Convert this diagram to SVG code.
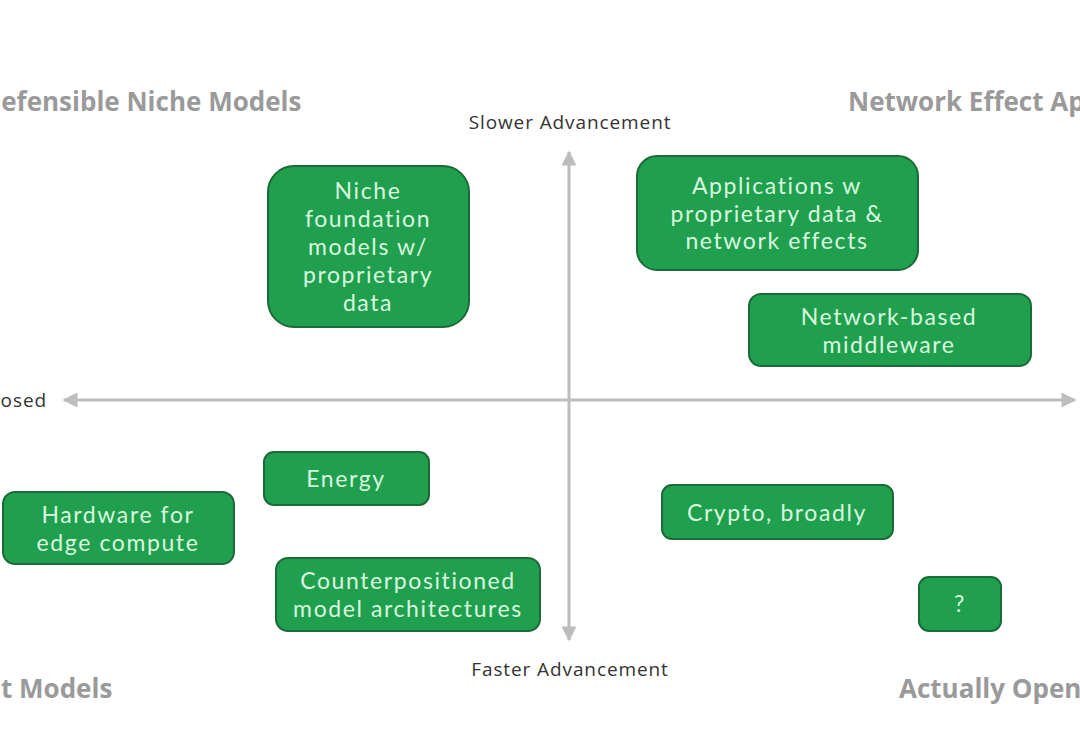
<svg xmlns="http://www.w3.org/2000/svg" width="1080" height="744" viewBox="0 0 1080 744">
<defs>
<style>
.box{fill:#20a04e;stroke:#1a6b37;stroke-width:2}
.lbl{font-family:Lato,"Open Sans","Liberation Sans",Arial,sans-serif;font-size:23px;fill:#d8f8df;text-anchor:middle;letter-spacing:1.6px}
.ax{stroke:#bdbdbd;stroke-width:3;fill:none}
.axl{font-family:"Open Sans","Liberation Sans",Arial,sans-serif;font-size:19px;fill:#333;letter-spacing:0.9px}
.q{font-family:"Open Sans","Liberation Sans",Arial,sans-serif;font-size:26px;font-weight:bold;fill:#9a9a9a}
</style>
<marker id="ah" viewBox="0 0 10 10" refX="9" refY="5" markerWidth="8" markerHeight="5" orient="auto-start-reverse" markerUnits="strokeWidth">
<path d="M0,0 L10,5 L0,10 z" fill="#bdbdbd"/>
</marker>
</defs>
<rect width="1080" height="744" fill="#fff"/>
<text class="q" x="-18" y="111">Defensible Niche Models</text>
<text class="q" x="848" y="111">Network Effect Apps</text>
<text class="q" x="1" y="698">t Models</text>
<text class="q" x="899" y="698">Actually Open</text>
<text class="axl" x="570" y="129" text-anchor="middle">Slower Advancement</text>
<text class="axl" x="570" y="676" text-anchor="middle">Faster Advancement</text>
<text class="axl" x="47" y="407" text-anchor="end">Closed</text>
<g id="connectors">
<line class="ax" x1="569" y1="640" x2="569" y2="152" marker-start="url(#ah)" marker-end="url(#ah)"/>
<line class="ax" x1="64" y1="400" x2="1075" y2="400" marker-start="url(#ah)" marker-end="url(#ah)"/>
</g>
<g id="niche"><rect class="box" x="268" y="166" width="201" height="161" rx="26"/>
<text class="lbl"><tspan x="368" y="199">Niche</tspan><tspan x="368" y="227">foundation</tspan><tspan x="368" y="255">models w/</tspan><tspan x="368" y="283">proprietary</tspan><tspan x="368" y="311">data</tspan></text></g>
<g id="apps"><rect class="box" x="637" y="156" width="281" height="114" rx="20"/>
<text class="lbl"><tspan x="777" y="194">Applications w</tspan><tspan x="777" y="222">proprietary data &amp;</tspan><tspan x="777" y="249">network effects</tspan></text></g>
<g id="middleware"><rect class="box" x="749" y="294" width="282" height="72" rx="12"/>
<text class="lbl"><tspan x="889" y="325">Network-based</tspan><tspan x="889" y="353">middleware</tspan></text></g>
<g id="energy"><rect class="box" x="264" y="452" width="165" height="53" rx="10"/>
<text class="lbl" x="346" y="487">Energy</text></g>
<g id="hardware"><rect class="box" x="3" y="492" width="231" height="72" rx="12"/>
<text class="lbl"><tspan x="118" y="523">Hardware for</tspan><tspan x="118" y="551">edge compute</tspan></text></g>
<g id="counter"><rect class="box" x="276" y="558" width="264" height="73" rx="12"/>
<text class="lbl"><tspan x="408" y="589">Counterpositioned</tspan><tspan x="408" y="617">model architectures</tspan></text></g>
<g id="crypto"><rect class="box" x="662" y="485" width="231" height="54" rx="10"/>
<text class="lbl" x="777" y="521">Crypto, broadly</text></g>
<g id="unknown"><rect class="box" x="919" y="577" width="82" height="54" rx="10"/>
<text class="lbl" x="960" y="612">?</text></g>
</svg>
